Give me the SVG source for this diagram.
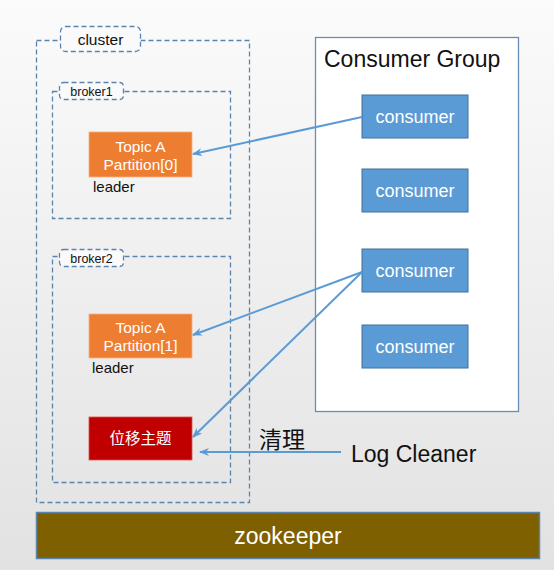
<svg xmlns="http://www.w3.org/2000/svg" width="554" height="570" viewBox="0 0 554 570">
<defs>
<linearGradient id="bg" x1="0" y1="0" x2="0" y2="1">
<stop offset="0" stop-color="#fbfbfb"/>
<stop offset="1" stop-color="#e2e2e2"/>
</linearGradient>
<marker id="ah" viewBox="0 0 10 10" refX="9" refY="5" markerWidth="5" markerHeight="5" orient="auto" markerUnits="strokeWidth">
<path d="M0,1 L10,5 L0,9 L3,5 Z" fill="#5B9BD5"/>
</marker>
<style>
text{font-family:"Liberation Sans",Arial,sans-serif}
.dash{fill:none;stroke:#5a84ab;stroke-width:1.3;stroke-dasharray:5,3}
.lab{fill:#fafafa;stroke:#5a84ab;stroke-width:1.3;stroke-dasharray:5,3}
.topic{fill:#ED7D31;stroke:#f4b183;stroke-width:0.8}
.cons{fill:#5B9BD5;stroke:#41719C;stroke-width:1}
.wt{fill:#ffffff;text-anchor:middle}
.bk{fill:#111111}
.cjk{font-family:"Noto Sans CJK SC",sans-serif}
.conn{fill:none;stroke:#5B9BD5;stroke-width:2;marker-end:url(#ah)}
</style>
</defs>
<rect width="554" height="570" fill="url(#bg)"/>
<g id="cluster">
<rect class="dash" x="36.5" y="40.5" width="213" height="462"/>
<rect class="lab" x="60.5" y="26.5" width="80" height="25" rx="5"/>
<text class="bk" x="100.5" y="45" font-size="15.5" text-anchor="middle">cluster</text>
</g>
<g id="broker1">
<rect class="dash" x="52.5" y="91.5" width="178" height="127"/>
<rect class="lab" x="59.5" y="82.5" width="64" height="17" rx="4"/>
<text class="bk" x="91.5" y="96" font-size="12.5" text-anchor="middle">broker1</text>
</g>
<g id="broker2">
<rect class="dash" x="52.5" y="256.5" width="178" height="226"/>
<rect class="lab" x="59.5" y="249.5" width="64" height="17" rx="4"/>
<text class="bk" x="91.5" y="263" font-size="12.5" text-anchor="middle">broker2</text>
</g>
<g id="topicA0">
<rect class="topic" x="89" y="132" width="103" height="45"/>
<text class="wt" x="140.5" y="152" font-size="15.5">Topic A</text>
<text class="wt" x="140.5" y="170" font-size="15.5">Partition[0]</text>
<text class="bk" x="93" y="192" font-size="15">leader</text>
</g>
<g id="topicA1">
<rect class="topic" x="89" y="314" width="103" height="44"/>
<text class="wt" x="140.5" y="333" font-size="15.5">Topic A</text>
<text class="wt" x="140.5" y="351" font-size="15.5">Partition[1]</text>
<text class="bk" x="92" y="373" font-size="15">leader</text>
</g>
<g id="offsetTopic">
<rect x="89" y="417" width="103" height="43" fill="#C00000" stroke="#d9534f" stroke-width="0.8"/>
<text class="wt cjk" x="140.5" y="444" font-size="15.5">位移主题</text>
</g>
<g id="consumerGroup">
<rect x="315.5" y="37.5" width="203" height="374" fill="#ffffff" stroke="#6a8db4" stroke-width="1.3"/>
<text class="bk" x="324" y="67" font-size="23">Consumer Group</text>
</g>
<g id="consumer1">
<rect class="cons" x="362" y="95" width="106" height="43"/>
<text class="wt" x="415" y="123" font-size="18">consumer</text>
</g>
<g id="consumer2">
<rect class="cons" x="362" y="169" width="106" height="43"/>
<text class="wt" x="415" y="197" font-size="18">consumer</text>
</g>
<g id="consumer3">
<rect class="cons" x="362" y="249" width="106" height="43"/>
<text class="wt" x="415" y="277" font-size="18">consumer</text>
</g>
<g id="consumer4">
<rect class="cons" x="362" y="325" width="106" height="43"/>
<text class="wt" x="415" y="353" font-size="18">consumer</text>
</g>
<g id="logCleaner">
<text class="bk" x="351" y="462" font-size="23">Log Cleaner</text>
</g>
<g id="zookeeper">
<rect x="36.5" y="512.5" width="503" height="46" fill="#7F6000" stroke="#5a84ab" stroke-width="1.5"/>
<text class="wt" x="288" y="544" font-size="23">zookeeper</text>
</g>
<g id="connectors">
<line class="conn" x1="362" y1="117" x2="193" y2="154"/>
<line class="conn" x1="362" y1="272" x2="193" y2="335"/>
<line class="conn" x1="362" y1="272" x2="193" y2="437"/>
<line class="conn" x1="341" y1="452" x2="200" y2="452"/>
<text class="bk cjk" x="259" y="448" font-size="23">清理</text>
</g>
</svg>
